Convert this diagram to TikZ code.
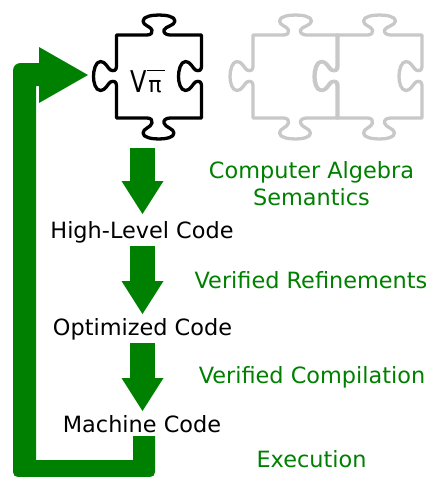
\documentclass[tikz,border=0pt]{standalone}
\usepackage{fontspec}
\setmainfont{DejaVu Sans}
\usetikzlibrary{arrows.meta}
\definecolor{flow}{HTML}{008000}
\definecolor{ghost}{HTML}{C8C8C8}
\newcommand{\piecepath}{
  (-42.5,-41.5) -- (-12,-41.5)
  .. controls (-8,-41.5) and (-6,-44) .. (-7,-46.5)
  .. controls (-8,-50) and (-16,-51) .. (-16,-55.5)
  .. controls (-16,-60) and (-7,-61.5) .. (0,-61.5)
  .. controls (7,-61.5) and (16,-60) .. (16,-55.5)
  .. controls (16,-51) and (6,-50) .. (5,-46.5)
  .. controls (4,-44) and (7,-41.5) .. (11,-41.5)
  -- (42.5,-41.5) -- (42.5,-10)
  .. controls (42.5,-6) and (39.5,-5) .. (36.5,-6.5)
  .. controls (33.5,-8.5) and (31.5,-15) .. (26.5,-15)
  .. controls (21.5,-15) and (19.5,-6) .. (19.5,0)
  .. controls (19.5,6) and (21.5,14) .. (26.5,14)
  .. controls (31.5,14) and (33.5,7.5) .. (36.5,5.5)
  .. controls (39.5,4) and (42.5,5) .. (42.5,9)
  -- (42.5,41.5) -- (11,41.5)
  .. controls (7,41.5) and (4,44) .. (5,46.5)
  .. controls (6,51) and (15,52) .. (15,56.5)
  .. controls (15,61) and (7,62.5) .. (0,62.5)
  .. controls (-7,62.5) and (-16,61) .. (-16,56.5)
  .. controls (-16,52) and (-8,51) .. (-7,46.5)
  .. controls (-6,44) and (-8,41.5) .. (-12,41.5)
  -- (-42.5,41.5) -- (-42.5,9)
  .. controls (-42.5,5) and (-45.5,4) .. (-48.5,5.5)
  .. controls (-51.5,7.5) and (-53.5,14) .. (-58.5,14)
  .. controls (-63.5,14) and (-65.5,6) .. (-65.5,0)
  .. controls (-65.5,-6) and (-63.5,-15) .. (-58.5,-15)
  .. controls (-53.5,-15) and (-51.5,-8.5) .. (-48.5,-6.5)
  .. controls (-45.5,-5) and (-42.5,-6) .. (-42.5,-10)
  -- cycle}
\tikzset{
  blackpiece/.style={draw=black,line width=3.3pt,line join=round},
  ghostpiece/.style={draw=ghost,line width=3.3pt,line join=round},
  stepword/.style={anchor=base,inner sep=0pt,font=\fontsize{22.4}{26}\selectfont,text=black},
  flowword/.style={anchor=base,inner sep=0pt,font=\fontsize{22.4}{26}\selectfont,text=flow},
  downarrow/.style={draw=flow,line width=25pt,-{Triangle[length=33pt,width=42pt,fill=flow,line width=0pt]}},
}
\begin{document}
\begin{tikzpicture}[x=1pt,y=-1pt]
\useasboundingbox (0,0) rectangle (427,477);
% puzzle pieces
\draw[ghostpiece,shift={(295.5,76.5)}] \piecepath;
\draw[ghostpiece,shift={(379.5,76.5)}] \piecepath;
\draw[blackpiece,shift={(159,76.5)}] \piecepath;
\node[inner sep=0pt,anchor=base,xscale=.8] (sqrtpi) at (139,92) {\fontsize{30}{32}\selectfont V};
\node[inner sep=0pt,anchor=base] (pi) at (155,92) {\fontsize{22}{24}\selectfont π};
\draw[line width=0.9pt] (147,70.5) -- (165,70.5);
% labels
\node[stepword] (high) at (142,238) {High-Level Code};
\node[stepword] (opt) at (142.5,335) {Optimized Code};
\node[stepword] (mach) at (142,432) {Machine Code};
\node[flowword] (sem1) at (311.5,178) {Computer Algebra};
\node[flowword] (sem2) at (311.5,205) {Semantics};
\node[flowword] (ref) at (311,288) {Verified Refinements};
\node[flowword] (comp) at (312,383) {Verified Compilation};
\node[flowword] (exec) at (311.5,467) {Execution};
% arrows
\coordinate (a1) at (142.5,148); \coordinate (b1) at (142.5,214);
\coordinate (a2) at (142.5,246); \coordinate (b2) at (142.5,314);
\coordinate (a3) at (142.5,343); \coordinate (b3) at (142.5,411);
\draw[downarrow] (a1) -- (b1);
\draw[downarrow] (a2) -- (b2);
\draw[downarrow] (a3) -- (b3);
% feedback
\fill[flow] (133,436) -- (133,460) -- (36,460) -- (36,86) -- (39,86) -- (39,103)
  -- (88,75) -- (39,47) -- (39,63) -- (21,63)
  .. controls (16,63) and (13,66) .. (13,71)
  -- (13,472) .. controls (13,475) and (15,477) .. (18,477)
  -- (150,477) .. controls (153,477) and (155,475) .. (155,472)
  -- (155,436) -- cycle;
\end{tikzpicture}
\end{document}
